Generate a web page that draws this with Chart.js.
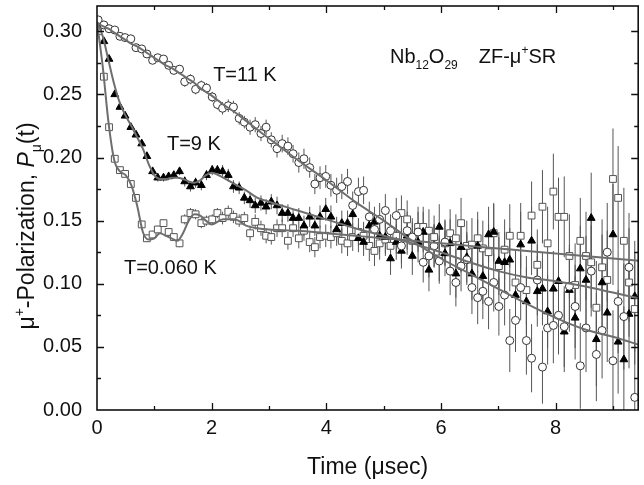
<!DOCTYPE html>
<html>
<head>
<meta charset="utf-8">
<script src="https://cdn.jsdelivr.net/npm/chart.js@4.4.0/dist/chart.umd.min.js"></script>
<style>
  html, body { margin: 0; padding: 0; background: #fff; overflow: hidden; }
  canvas { display: block; }
</style>
</head>
<body>
<canvas id="grafico" width="644" height="485"></canvas>
<script>
// time bins (usec)
const times = [
    0.02, 0.12, 0.21, 0.31, 0.40, 0.49, 0.59, 0.68, 0.78, 0.87,
    0.97, 1.06, 1.16, 1.25, 1.34, 1.44, 1.53, 1.63, 1.72, 1.82,
    1.91, 2.01, 2.10, 2.19, 2.29, 2.38, 2.48, 2.57, 2.67, 2.76,
    2.86, 2.95, 3.04, 3.14, 3.23, 3.33, 3.42, 3.52, 3.61, 3.71,
    3.80, 3.89, 3.99, 4.08, 4.18, 4.27, 4.37, 4.46, 4.56, 4.65,
    4.75, 4.84, 4.93, 5.03, 5.12, 5.22, 5.31, 5.41, 5.50, 5.60,
    5.69, 5.79, 5.88, 5.97, 6.07, 6.16, 6.26, 6.35, 6.45, 6.54,
    6.64, 6.73, 6.83, 6.92, 7.01, 7.11, 7.20, 7.30, 7.39, 7.49,
    7.58, 7.68, 7.77, 7.86, 7.96, 8.05, 8.15, 8.24, 8.34, 8.43,
    8.53, 8.62, 8.71, 8.81, 8.90, 9.00, 9.09, 9.19, 9.28, 9.38
];

// T = 11 K (open circles)
const polar11K = [
    0.309, 0.305, 0.302, 0.301, 0.296, 0.295, 0.294, 0.287, 0.286, 0.282,
    0.277, 0.279, 0.278, 0.273, 0.269, 0.270, 0.260, 0.262, 0.254, 0.257,
    0.255, 0.248, 0.242, 0.239, 0.241, 0.240, 0.231, 0.228, 0.224, 0.226,
    0.219, 0.224, 0.214, 0.207, 0.211, 0.209, 0.203, 0.196, 0.199, 0.192,
    0.179, 0.184, 0.185, 0.178, 0.174, 0.177, 0.181, 0.162, 0.173, 0.174,
    0.153, 0.143, 0.151, 0.158, 0.142, 0.154, 0.130, 0.142, 0.137, 0.141,
    0.117, 0.122, 0.130, 0.118, 0.133, 0.110, 0.101, 0.114, 0.119, 0.097,
    0.089, 0.094, 0.086, 0.101, 0.082, 0.091, 0.055, 0.071, 0.097, 0.055,
    0.041, 0.103, 0.034, 0.065, 0.067, 0.075, 0.066, 0.098, 0.082, 0.035,
    0.065, 0.110, 0.044, 0.063, 0.125, 0.039, 0.086, 0.074, 0.113, 0.010
];

// T = 9 K (filled triangles)
const polar9K = [
    0.305, 0.292, 0.278, 0.250, 0.240, 0.233, 0.224, 0.218, 0.211, 0.201,
    0.189, 0.184, 0.184, 0.185, 0.186, 0.189, 0.181, 0.177, 0.180, 0.178,
    0.186, 0.190, 0.190, 0.189, 0.186, 0.177, 0.176, 0.168, 0.166, 0.162,
    0.164, 0.161, 0.165, 0.162, 0.156, 0.156, 0.152, 0.152, 0.146, 0.153,
    0.146, 0.153, 0.159, 0.153, 0.143, 0.148, 0.148, 0.155, 0.136, 0.133,
    0.146, 0.149, 0.138, 0.137, 0.120, 0.133, 0.126, 0.138, 0.122, 0.133,
    0.141, 0.111, 0.130, 0.145, 0.124, 0.132, 0.108, 0.129, 0.121, 0.108,
    0.130, 0.106, 0.139, 0.141, 0.118, 0.117, 0.119, 0.091, 0.131, 0.086,
    0.134, 0.094, 0.096, 0.078, 0.096, 0.102, 0.062, 0.095, 0.073, 0.112,
    0.103, 0.152, 0.056, 0.101, 0.077, 0.139, 0.054, 0.040, 0.076, 0.090
];

// T = 0.060 K (open squares)
const polar60mK = [
    0.300, 0.264, 0.224, 0.199, 0.190, 0.187, 0.179, 0.168, 0.147, 0.136,
    0.139, 0.143, 0.148, 0.141, 0.137, 0.132, 0.151, 0.156, 0.155, 0.148,
    0.150, 0.151, 0.156, 0.152, 0.157, 0.153, 0.150, 0.152, 0.140, 0.149,
    0.144, 0.138, 0.137, 0.144, 0.144, 0.134, 0.144, 0.136, 0.142, 0.133,
    0.129, 0.137, 0.138, 0.137, 0.140, 0.134, 0.132, 0.137, 0.141, 0.138,
    0.130, 0.126, 0.132, 0.135, 0.130, 0.138, 0.156, 0.151, 0.134, 0.145,
    0.145, 0.142, 0.137, 0.120, 0.132, 0.140, 0.136, 0.148, 0.130, 0.131,
    0.136, 0.128, 0.125, 0.140, 0.114, 0.127, 0.138, 0.101, 0.138, 0.095,
    0.154, 0.115, 0.161, 0.132, 0.173, 0.153, 0.153, 0.122, 0.099, 0.134,
    0.122, 0.117, 0.081, 0.113, 0.103, 0.183, 0.168, 0.134, 0.101, 0.080
];

// statistical error of each time bin
const errBars = [
    0.002, 0.002, 0.002, 0.002, 0.002, 0.002, 0.002, 0.002, 0.003, 0.003,
    0.003, 0.003, 0.003, 0.003, 0.003, 0.003, 0.004, 0.004, 0.004, 0.004,
    0.004, 0.004, 0.004, 0.005, 0.005, 0.005, 0.005, 0.005, 0.006, 0.006,
    0.006, 0.006, 0.006, 0.007, 0.007, 0.007, 0.007, 0.008, 0.008, 0.008,
    0.008, 0.009, 0.009, 0.009, 0.010, 0.010, 0.010, 0.011, 0.011, 0.011,
    0.012, 0.012, 0.013, 0.013, 0.013, 0.014, 0.014, 0.015, 0.015, 0.016,
    0.016, 0.017, 0.017, 0.018, 0.018, 0.019, 0.019, 0.020, 0.020, 0.021,
    0.021, 0.022, 0.022, 0.023, 0.023, 0.024, 0.025, 0.025, 0.026, 0.027,
    0.027, 0.028, 0.029, 0.029, 0.030, 0.031, 0.032, 0.033, 0.033, 0.034,
    0.035, 0.036, 0.037, 0.038, 0.039, 0.040, 0.041, 0.042, 0.043, 0.044
];

// fitted curves
const fitTimes = [
    0, 0.1, 0.2, 0.3, 0.4, 0.5, 0.6, 0.7, 0.8, 0.9, 1.0,
    1.1, 1.2, 1.3, 1.4, 1.5, 1.6, 1.7, 1.8, 1.9, 2.0,
    2.2, 2.4, 2.6, 2.8, 3.0,
    3.5, 4.0, 4.5, 5.0, 5.5, 6.0, 6.5, 7.0, 7.5, 8.0, 8.5, 9.0, 9.5
];
const fit11K = [
    0.307, 0.304, 0.302, 0.299, 0.296, 0.293, 0.290, 0.288, 0.285, 0.282, 0.279,
    0.276, 0.273, 0.271, 0.268, 0.265, 0.262, 0.259, 0.255, 0.252, 0.249,
    0.242, 0.236, 0.229, 0.222, 0.215,
    0.198, 0.182, 0.165, 0.150, 0.134, 0.120, 0.108, 0.096, 0.084, 0.073, 0.064, 0.058, 0.051
];
const fit9K = [
    0.307, 0.296, 0.277, 0.258, 0.243, 0.233, 0.225, 0.216, 0.207, 0.195, 0.186,
    0.183, 0.183, 0.184, 0.184, 0.183, 0.181, 0.180, 0.182, 0.186, 0.188,
    0.184, 0.179, 0.174, 0.168, 0.165,
    0.158, 0.151, 0.144, 0.138, 0.132, 0.125, 0.117, 0.110, 0.105, 0.102, 0.098, 0.093, 0.088
];
const fit60mK = [
    0.307, 0.272, 0.228, 0.198, 0.189, 0.186, 0.178, 0.162, 0.141, 0.135, 0.136,
    0.140, 0.138, 0.136, 0.134, 0.140, 0.150, 0.155, 0.154, 0.150, 0.147,
    0.151, 0.151, 0.146, 0.144, 0.143,
    0.142, 0.140, 0.138, 0.136, 0.134, 0.132, 0.130, 0.128, 0.126, 0.124, 0.122, 0.120, 0.118
];

const xTicks = [0, 2, 4, 6, 8];
const yTicks = [0, 0.05, 0.10, 0.15, 0.20, 0.25, 0.30];

const curveLabels = [
    { text: 'T=11 K', x: 2.58, y: 0.265 },
    { text: 'T=9 K', x: 1.69, y: 0.210 },
    { text: 'T=0.060 K', x: 1.28, y: 0.112 }
];

const SANS = '"Liberation Sans", Arial, Helvetica, sans-serif';
const FIT_COLOR = '#6e6e6e';

function pontos(valores) {
    return times.map((t, i) => ({ x: t, y: valores[i] }));
}

function barrasErro(valores) {
    return times.flatMap((t, i) => [
        { x: t, y: valores[i] - errBars[i] },
        { x: t, y: valores[i] + errBars[i] },
        { x: t, y: null }
    ]);
}

function curva(valores) {
    return fitTimes.map((t, i) => ({ x: t, y: valores[i] }));
}

// draws a row of text pieces (normal / sub / sup / italic) starting at (x0, base)
function desenharPartes(ctx, partes, x0, base, size) {
    let x = x0;
    partes.forEach(p => {
        const s = p.sub || p.sup ? Math.round(size * 0.62) : size;
        ctx.font = (p.italic ? 'italic ' : '') + s + 'px ' + SANS;
        const dy = p.sub ? size * 0.32 : p.sup ? -size * 0.42 : 0;
        ctx.fillText(p.t, x, base + dy);
        x += ctx.measureText(p.t).width + (p.gap || 0);
    });
    return x - x0;
}

function larguraPartes(ctx, partes, size) {
    return partes.reduce((w, p) => {
        const s = p.sub || p.sup ? Math.round(size * 0.62) : size;
        ctx.font = (p.italic ? 'italic ' : '') + s + 'px ' + SANS;
        return w + ctx.measureText(p.t).width + (p.gap || 0);
    }, 0);
}

const moldura = {
    id: 'moldura',
    afterDraw(chart) {
        const { ctx, chartArea: a, scales: { x, y } } = chart;
        ctx.save();

        // frame + inward ticks
        ctx.strokeStyle = '#111';
        ctx.lineWidth = 1.6;
        ctx.strokeRect(a.left, a.top, a.right - a.left, a.bottom - a.top);
        ctx.beginPath();
        for (let v = 1; v <= 9; v++) {
            const px = Math.round(x.getPixelForValue(v)) + 0.5;
            const len = v % 2 ? 4 : 7;
            ctx.moveTo(px, a.bottom); ctx.lineTo(px, a.bottom - len);
            ctx.moveTo(px, a.top); ctx.lineTo(px, a.top + len);
        }
        for (let k = 1; k <= 12; k++) {
            const py = Math.round(y.getPixelForValue(k * 0.025)) + 0.5;
            const len = k % 2 ? 4 : 7;
            ctx.moveTo(a.left, py); ctx.lineTo(a.left + len, py);
            ctx.moveTo(a.right, py); ctx.lineTo(a.right - len, py);
        }
        ctx.lineWidth = 1.3;
        ctx.stroke();

        ctx.fillStyle = '#111';

        // curve labels
        ctx.font = '20px ' + SANS;
        ctx.textAlign = 'center';
        ctx.textBaseline = 'middle';
        curveLabels.forEach(l => {
            ctx.fillText(l.text, x.getPixelForValue(l.x), y.getPixelForValue(l.y));
        });

        // sample annotation
        ctx.textAlign = 'left';
        ctx.textBaseline = 'alphabetic';
        desenharPartes(ctx, [
            { t: 'Nb' }, { t: '12', sub: true }, { t: 'O' }, { t: '29', sub: true, gap: 21 },
            { t: 'ZF-\u03bc' }, { t: '+', sup: true }, { t: 'SR' }
        ], x.getPixelForValue(5.11), y.getPixelForValue(0.275), 20);

        // y axis title
        const partesY = [
            { t: '\u03bc' }, { t: '+', sup: true }, { t: '-Polarization, ' },
            { t: 'P', italic: true }, { t: '\u03bc', sub: true }, { t: '(t)' }
        ];
        ctx.translate(34, (a.top + a.bottom) / 2 + 18);
        ctx.rotate(-Math.PI / 2);
        const w = larguraPartes(ctx, partesY, 23);
        desenharPartes(ctx, partesY, -w / 2, 0, 23);

        ctx.restore();
    }
};

const conjuntos = [
    { nome: '11K', valores: polar11K, fit: fit11K, estilo: 'circle', raio: 4, fundo: '#fff', borda: '#333' },
    { nome: '9K', valores: polar9K, fit: fit9K, estilo: 'triangle', raio: 4.5, fundo: '#000', borda: '#000' },
    { nome: '60mK', valores: polar60mK, fit: fit60mK, estilo: 'rect', raio: 4.8, fundo: '#fff', borda: '#555' }
];

const datasets = [];
conjuntos.forEach(c => {
    datasets.push({
        label: 'fit ' + c.nome,
        data: curva(c.fit),
        borderColor: FIT_COLOR,
        borderWidth: 2,
        pointRadius: 0,
        cubicInterpolationMode: 'monotone',
        order: 0
    });
    datasets.push({
        label: c.nome,
        data: pontos(c.valores),
        showLine: false,
        pointStyle: c.estilo,
        pointRadius: c.raio,
        pointBackgroundColor: c.fundo,
        pointBorderColor: c.borda,
        pointBorderWidth: 1,
        order: 1
    });
    datasets.push({
        label: 'erro ' + c.nome,
        data: barrasErro(c.valores),
        borderColor: '#555',
        borderWidth: 1,
        pointRadius: 0,
        spanGaps: false,
        order: 2
    });
});

new Chart(document.getElementById('grafico').getContext('2d'), {
    type: 'line',
    data: { datasets },
    options: {
        responsive: false,
        animation: false,
        layout: { padding: { top: 6, left: 0, right: 0, bottom: 0 } },
        plugins: { legend: { display: false }, tooltip: { enabled: false } },
        scales: {
            x: {
                type: 'linear',
                min: 0,
                max: 9.44,
                afterBuildTicks: s => { s.ticks = xTicks.map(v => ({ value: v })); },
                afterFit: s => { s.height = 75; s.paddingLeft = 0; s.paddingRight = 0; },
                grid: { display: false, drawTicks: false },
                border: { display: false },
                ticks: { font: { family: SANS, size: 20 }, color: '#111', padding: 6, maxRotation: 0 },
                title: {
                    display: true,
                    text: 'Time (\u03bcsec)',
                    font: { family: SANS, size: 23 },
                    color: '#111',
                    padding: { top: 0, bottom: 4 }
                }
            },
            y: {
                type: 'linear',
                min: 0,
                max: 0.32,
                afterBuildTicks: s => { s.ticks = yTicks.map(v => ({ value: v })); },
                afterFit: s => { s.width = 97; s.paddingTop = 0; s.paddingBottom = 0; },
                grid: { display: false, drawTicks: false },
                border: { display: false },
                ticks: {
                    font: { family: SANS, size: 20 },
                    color: '#111',
                    padding: 15,
                    callback: v => v.toFixed(2)
                }
            }
        }
    },
    plugins: [moldura]
});
</script>
</body>
</html>
